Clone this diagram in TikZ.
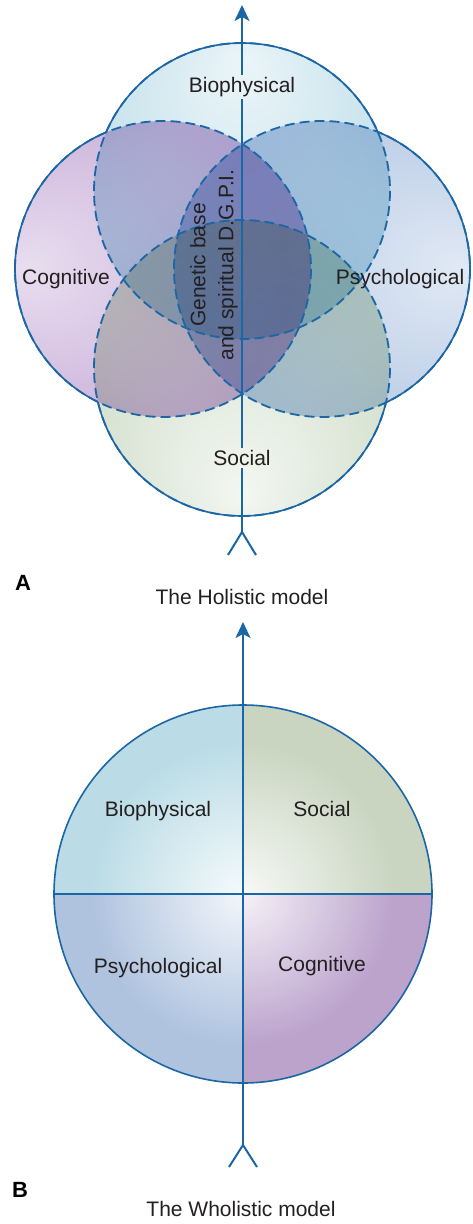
\documentclass[tikz,border=0pt]{standalone}
\usepackage{fontspec}
\setmainfont{Liberation Sans}
\usetikzlibrary{arrows.meta,positioning}

\definecolor{axisblue}{HTML}{1B66A5}
\definecolor{inktext}{HTML}{231F20}
% holistic circles, multiplied over one another
\definecolor{biofill}{HTML}{BEDEE9}
\definecolor{cogfill}{HTML}{C8ADD8}
\definecolor{psyfill}{HTML}{B4C8E4}
\definecolor{socfill}{HTML}{D0DECA}
% wholistic quarters
\definecolor{bioquad}{HTML}{BBDCE6}
\definecolor{socquad}{HTML}{C9D5C1}
\definecolor{psyquad}{HTML}{AFC3DF}
\definecolor{cogquad}{HTML}{BBA3CC}

\pgfdeclareradialshading[glowin,glowout]{glowN}{\pgfpoint{0bp}{22bp}}{color(0bp)=(glowin); color(30bp)=(glowout); color(50bp)=(glowout)}
\pgfdeclareradialshading[glowin,glowout]{glowS}{\pgfpoint{0bp}{-22bp}}{color(0bp)=(glowin); color(30bp)=(glowout); color(50bp)=(glowout)}
\pgfdeclareradialshading[glowin,glowout]{glowW}{\pgfpoint{-24bp}{0bp}}{color(0bp)=(glowin); color(30bp)=(glowout); color(50bp)=(glowout)}
\pgfdeclareradialshading[glowin,glowout]{glowE}{\pgfpoint{24bp}{0bp}}{color(0bp)=(glowin); color(30bp)=(glowout); color(50bp)=(glowout)}
\pgfdeclareradialshading[glowin,glowout]{glowC}{\pgfpointorigin}{color(0bp)=(glowin); color(20bp)=(glowout); color(50bp)=(glowout)}

\newcommand\outsideof[1]{\path[clip] (-20,-20) rectangle (500,1250) (#1) circle (148);}

\begin{document}
\begin{tikzpicture}[x=0.5pt,y=-0.5pt,
    axisline/.style={draw=axisblue,line width=1pt},
    rimline/.style={draw=axisblue,line width=0.8pt},
    seamline/.style={draw=axisblue,line width=0.9pt,dash pattern=on 5pt off 2.5pt},
    part/.style={text=inktext,font=\fontsize{10.5}{14}\selectfont,inner sep=1pt},
    caption/.style={text=inktext,font=\fontsize{10.5}{13}\selectfont},
    panel/.style={text=black,font=\bfseries\fontsize{11}{13}\selectfont}]
\useasboundingbox (0,0) rectangle (472,1224);

% A: the holistic model
\coordinate (biocen) at (242,191);
\coordinate (cogcen) at (163,269);
\coordinate (psycen) at (322,269);
\coordinate (soccen) at (242,368);

\begin{scope}[blend mode=multiply]
  \colorlet{glowin}{white!70!biofill}\colorlet{glowout}{biofill}
  \shade[shading=glowN] (biocen) circle (148);
  \colorlet{glowin}{white!60!cogfill}\colorlet{glowout}{cogfill}
  \shade[shading=glowW] (cogcen) circle (148);
  \colorlet{glowin}{white!60!psyfill}\colorlet{glowout}{psyfill}
  \shade[shading=glowE] (psycen) circle (148);
  \colorlet{glowin}{white!75!socfill}\colorlet{glowout}{socfill}
  \shade[shading=glowS] (soccen) circle (148);
\end{scope}

\foreach \c in {biocen,cogcen,psycen,soccen}
  \draw[seamline] (\c) circle (148);
\begin{scope}[even odd rule]\outsideof{cogcen}\outsideof{psycen}\outsideof{soccen}
  \draw[rimline] (biocen) circle (148);
\end{scope}
\begin{scope}[even odd rule]\outsideof{biocen}\outsideof{psycen}\outsideof{soccen}
  \draw[rimline] (cogcen) circle (148);
\end{scope}
\begin{scope}[even odd rule]\outsideof{biocen}\outsideof{cogcen}\outsideof{soccen}
  \draw[rimline] (psycen) circle (148);
\end{scope}
\begin{scope}[even odd rule]\outsideof{biocen}\outsideof{cogcen}\outsideof{psycen}
  \draw[rimline] (soccen) circle (148);
\end{scope}

\node[part] (biohol) at (242,87) {Biophysical};
\node[part] (coghol) at (66,279) {Cognitive};
\node[part] (psyhol) at (400,279) {Psychological};
\node[part] (sochol) at (242,458) {Social};
\node[part,rotate=90,align=center] (genhol) at (214,265) {Genetic base\\and spiritual D.G.P.I.};

\coordinate (holtip) at (242,5);
\coordinate (holtail) at (242,532);
\coordinate (holfootL) at (228,555);
\coordinate (holfootR) at (256,555);
\draw[axisline] (holtail) -- (sochol.south);
\draw[axisline] (sochol.north) -- (biohol.south);
\draw[axisline,-{Stealth[length=8pt,width=7.5pt,inset=2pt]}] (biohol.north) -- (holtip);
\draw[axisline] (holfootL) -- (holtail) -- (holfootR);

\node[panel] (panA) at (23,583) {A};
\node[caption] (holtitle) at (242,597) {The Holistic model};

% B: the wholistic model
\coordinate (wholcen) at (243,894);
\begin{scope}
  \clip (wholcen) circle (189);
  \colorlet{glowin}{white!85!bioquad}\colorlet{glowout}{bioquad}
  \begin{scope}\clip (wholcen) rectangle ++(-200,-200);
    \shade[shading=glowC] (wholcen) circle (189);
  \end{scope}
  \colorlet{glowin}{white!85!socquad}\colorlet{glowout}{socquad}
  \begin{scope}\clip (wholcen) rectangle ++(200,-200);
    \shade[shading=glowC] (wholcen) circle (189);
  \end{scope}
  \colorlet{glowin}{white!85!psyquad}\colorlet{glowout}{psyquad}
  \begin{scope}\clip (wholcen) rectangle ++(-200,200);
    \shade[shading=glowC] (wholcen) circle (189);
  \end{scope}
  \colorlet{glowin}{white!85!cogquad}\colorlet{glowout}{cogquad}
  \begin{scope}\clip (wholcen) rectangle ++(200,200);
    \shade[shading=glowC] (wholcen) circle (189);
  \end{scope}
\end{scope}
\draw[rimline] (wholcen) circle (189);

\coordinate (wholW) at (54,894);
\coordinate (wholE) at (432,894);
\draw[rimline] (wholW) -- (wholE);

\coordinate (wholtip) at (243,622);
\coordinate (wholtail) at (243,1145);
\coordinate (wholfootL) at (229,1167);
\coordinate (wholfootR) at (257,1167);
\draw[axisline,-{Stealth[length=8pt,width=7.5pt,inset=2pt]}] (wholtail) -- (wholtip);
\draw[axisline] (wholfootL) -- (wholtail) -- (wholfootR);

\node[part] (biowhol) at (158,811) {Biophysical};
\node[part] (socwhol) at (322,809) {Social};
\node[part] (psywhol) at (158,968) {Psychological};
\node[part] (cogwhol) at (322,966) {Cognitive};

\node[panel] (panB) at (20,1190) {B};
\node[caption] (wholtitle) at (241,1209) {The Wholistic model};
\end{tikzpicture}
\end{document}
